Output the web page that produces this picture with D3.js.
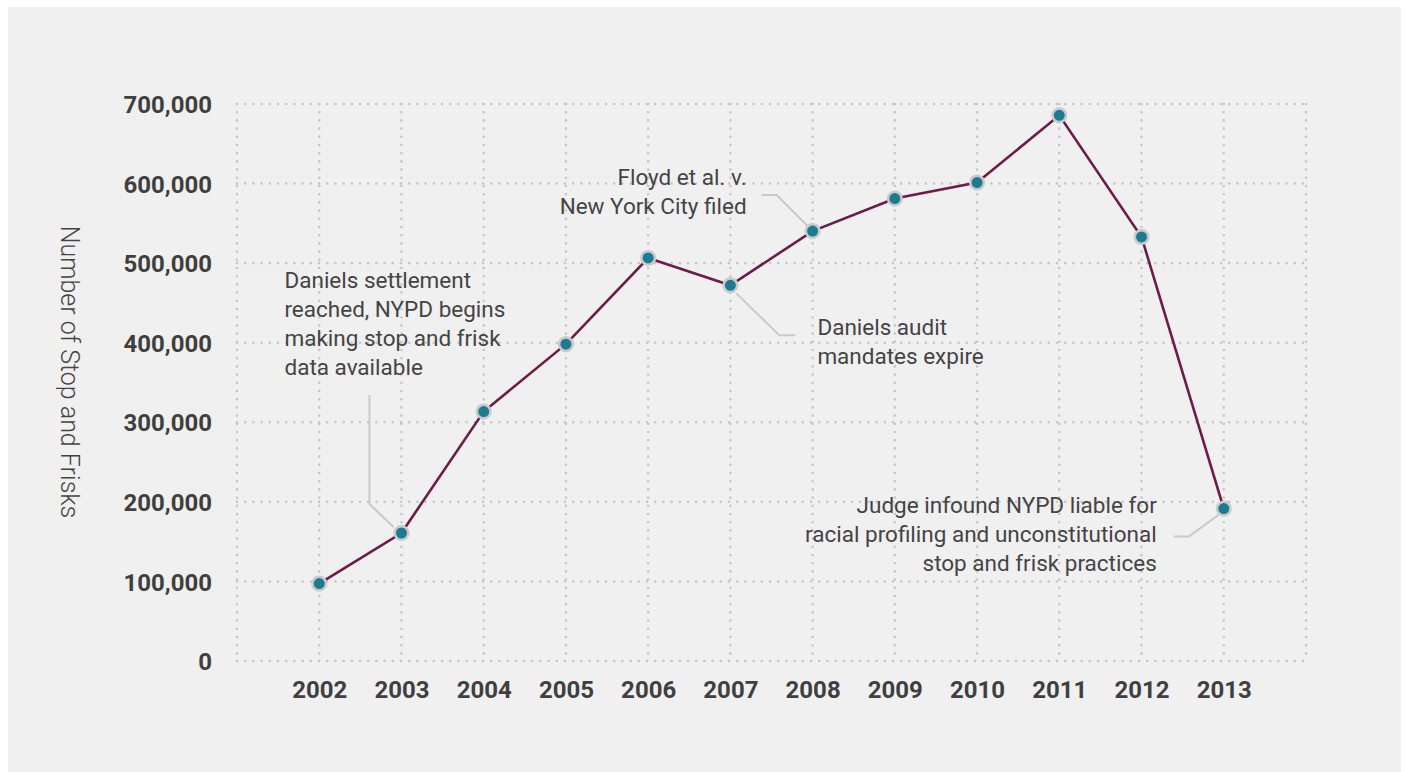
<!DOCTYPE html>
<html><head><meta charset="utf-8">
<script src="https://cdn.jsdelivr.net/npm/d3@7"></script>
<style>
html,body{margin:0;padding:0;background:#fff;}
svg{display:block;}
</style></head>
<body>
<svg id="chart" width="1406" height="772"></svg>
<script>
const years = [2002,2003,2004,2005,2006,2007,2008,2009,2010,2011,2012,2013];
const stops = [97296,160851,313523,398191,506491,472096,540302,581168,601285,685724,532911,191558];
const yTicks = [0,100000,200000,300000,400000,500000,600000,700000];
const gridYears = [2001,2002,2003,2004,2005,2006,2007,2008,2009,2010,2011,2012,2013,2014];
const yTitle = "Number of Stop and Frisks";
const notes = [
  {year:2003, lines:["Daniels settlement","reached, NYPD begins","making stop and frisk","data available"]},
  {year:2008, lines:["Floyd et al. v.","New York City filed"]},
  {year:2007, lines:["Daniels audit","mandates expire"]},
  {year:2013, lines:["Judge infound NYPD liable for","racial profiling and unconstitutional","stop and frisk practices"]}
];

const svg = d3.select("#chart");
svg.append("rect").attr("x",8).attr("y",7).attr("width",1393).attr("height",772).attr("fill","#f0f0f0");

const x = d3.scaleLinear().domain([2001,2014]).range([237,1306]);
const y = d3.scaleLinear().domain([0,700000]).range([661,104]);

const grid = svg.append("g");
const gridStyle = s => s.attr("stroke","#c6c6c6").attr("stroke-width",2.6)
  .attr("stroke-linecap","round").attr("stroke-dasharray","0,8.2").attr("fill","none");
grid.selectAll("line.h").data(yTicks).join("line").attr("class","h")
  .attr("x1",x(2001)).attr("x2",x(2014)).attr("y1",d=>y(d)).attr("y2",d=>y(d)).call(gridStyle);
grid.selectAll("line.v").data(gridYears).join("line").attr("class","v")
  .attr("x1",d=>x(d)).attr("x2",d=>x(d)).attr("y1",y(700000)).attr("y2",y(0)).call(gridStyle);

// Y axis labels
const yAxis = d3.axisLeft(y).tickValues(yTicks).tickFormat(d3.format(",")).tickSize(0).tickPadding(0);
const ya = svg.append("g").attr("transform","translate(212,0)").call(yAxis);
ya.select(".domain").remove();
ya.selectAll("text").attr("font-family","Roboto, sans-serif").attr("font-weight","bold")
  .attr("font-size",24).attr("fill","#3f3f3f").attr("dy","0.36em");

// X axis labels
const xAxis = d3.axisBottom(x).tickValues(years).tickFormat(d3.format("d")).tickSize(0).tickPadding(0);
const xa = svg.append("g").attr("transform","translate(0,681)").call(xAxis);
xa.select(".domain").remove();
xa.selectAll("text").attr("font-family","Roboto, sans-serif").attr("font-weight","bold")
  .attr("font-size",24).attr("fill","#3f3f3f").attr("dy","0.71em");

// Y title
svg.append("text").attr("transform","translate(61,372) rotate(90)")
  .attr("text-anchor","middle").attr("font-family","Roboto, sans-serif").attr("font-weight",300)
  .attr("font-size",25).attr("fill","#444").text(yTitle);

// Annotation leader lines (anchored on data points)
const P = yr => [x(yr), y(stops[years.indexOf(yr)])];
const lead = svg.append("g").attr("fill","none").attr("stroke","#c9c9c9").attr("stroke-width",2);
{
  const [px,py] = P(2003);
  lead.append("path").attr("d",`M${px-32},${py-138} V${py-29} L${px-8},${py-6}`);
}
{
  const [px,py] = P(2008);
  lead.append("path").attr("d",`M${px-51},${py-36} H${px-36} L${px-5},${py-5}`);
}
{
  const [px,py] = P(2007);
  lead.append("path").attr("d",`M${px+6},${py+8} L${px+49},${py+50} H${px+65}`);
}
{
  const [px,py] = P(2013);
  lead.append("path").attr("d",`M${px-50},${py+28} H${px-35} L${px-5},${py+6}`);
}

// Line
const line = d3.line().x((d,i)=>x(years[i])).y(d=>y(d));
svg.append("path").datum(stops).attr("d",line).attr("fill","none")
  .attr("stroke","#6e1a4b").attr("stroke-width",2.6);

// Points
svg.append("g").selectAll("circle").data(stops).join("circle")
  .attr("cx",(d,i)=>x(years[i])).attr("cy",d=>y(d)).attr("r",6.8)
  .attr("fill","#1c7b90").attr("stroke","#cacaca").attr("stroke-width",2.6);

// Annotation texts
const noteFont = s => s.attr("font-family","Roboto, sans-serif").attr("font-size",22.5).attr("fill","#444");
function note(lines, xPos, yBase, anchor){
  const t = svg.append("text").attr("text-anchor",anchor).call(noteFont);
  lines.forEach((l,i)=>t.append("tspan").attr("x",xPos).attr("y",yBase+i*29).text(l));
}
{
  const [px,py] = P(2003); note(notes[0].lines, px-117, py-245, "start");
  const [qx,qy] = P(2008); note(notes[1].lines, qx-66, qy-46, "end");
  const [rx,ry] = P(2007); note(notes[2].lines, rx+87, ry+50, "start");
  const [sx,sy] = P(2013); note(notes[3].lines, sx-67, sy+4, "end");
}
</script>
</body></html>
